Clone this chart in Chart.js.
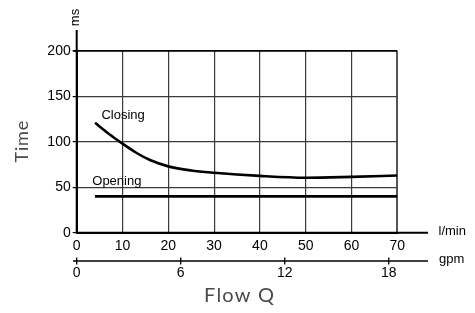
<!DOCTYPE html>
<html>
<head>
<meta charset="utf-8">
<script src="https://cdn.jsdelivr.net/npm/chart.js@4/dist/chart.umd.min.js"></script>
<style>
  html, body { margin: 0; padding: 0; background: #fff; }
  #wrap { width: 475px; height: 313px; }
</style>
</head>
<body>
<div id="wrap"><canvas id="c" width="475" height="313"></canvas></div>
<script>
// ---- data ----
const flowTicksLmin = [0, 10, 20, 30, 40, 50, 60, 70];
const timeTicks = [0, 50, 100, 150, 200];
const gpmTicks = [0, 6, 12, 18];
const closingFlow = [4, 7, 10, 13, 16, 20, 25, 30, 40, 50, 60, 70];
const closingTime = [121, 109, 98, 88, 80, 73, 68.5, 66, 62.5, 60.5, 61.5, 63];
const openingFlow = [4, 70];
const openingTime = [40, 40];
const LMIN_PER_GPM = 3.785411784;

const closingPts = closingFlow.map((x, i) => ({x, y: closingTime[i]}));
const openingPts = openingFlow.map((x, i) => ({x, y: openingTime[i]}));

const FONT = 'Liberation Sans, Arial, sans-serif';

function spacedText(ctx, text, cx, cy, spacing) {
  // draw centered text with letter spacing
  const chars = Array.from(text);
  const widths = chars.map(ch => ctx.measureText(ch).width);
  const total = widths.reduce((a, b) => a + b, 0) + spacing * (chars.length - 1);
  let x = cx - total / 2;
  const prevAlign = ctx.textAlign;
  ctx.textAlign = 'left';
  chars.forEach((ch, i) => { ctx.fillText(ch, x, cy); x += widths[i] + spacing; });
  ctx.textAlign = prevAlign;
}

const extras = {
  id: 'extras',
  beforeDraw(chart) {
    const ctx = chart.ctx;
    ctx.save();
    ctx.fillStyle = '#fff';
    ctx.fillRect(0, 0, chart.width, chart.height);
    ctx.restore();
  },
  afterDraw(chart) {
    const ctx = chart.ctx;
    const xs = chart.scales.x, ys = chart.scales.y;
    const x0 = xs.getPixelForValue(0), y0 = ys.getPixelForValue(0);
    ctx.save();
    ctx.strokeStyle = '#000';
    ctx.lineWidth = 2;
    // extended axis lines
    ctx.beginPath();
    ctx.moveTo(x0, y0);
    ctx.lineTo(xs.getPixelForValue(76.7), y0);
    ctx.moveTo(x0, y0);
    ctx.lineTo(x0, ys.getPixelForValue(223));
    ctx.stroke();

    // gpm axis
    const gy = 261;
    ctx.lineWidth = 1.6;
    ctx.beginPath();
    ctx.moveTo(xs.getPixelForValue(-0.8), gy);
    ctx.lineTo(xs.getPixelForValue(76.7), gy);
    ctx.stroke();
    ctx.lineWidth = 1.3;
    ctx.fillStyle = '#000';
    ctx.font = '14px ' + FONT;
    ctx.textAlign = 'center';
    ctx.textBaseline = 'middle';
    gpmTicks.forEach(g => {
      const px = xs.getPixelForValue(g * LMIN_PER_GPM);
      ctx.beginPath();
      ctx.moveTo(px, gy - 3.5);
      ctx.lineTo(px, gy + 3.5);
      ctx.stroke();
      ctx.fillText(String(g), px, 273.5);
    });

    // unit labels
    ctx.font = '13px ' + FONT;
    ctx.textAlign = 'left';
    ctx.fillText('l/min', 438.5, 231.5);
    ctx.fillText('gpm', 439, 259.5);

    // series labels
    ctx.fillText('Closing', xs.getPixelForValue(5.4), ys.getPixelForValue(129));
    ctx.fillText('Opening', xs.getPixelForValue(3.4), ys.getPixelForValue(56));

    // ms (rotated)
    ctx.save();
    ctx.translate(75, 17.5);
    ctx.rotate(-Math.PI / 2);
    ctx.textAlign = 'center';
    ctx.fillText('ms', 0, 0);
    ctx.restore();

    // axis titles
    ctx.fillStyle = '#4a4a4a';
    ctx.font = '20px Lato, sans-serif';
    ctx.textBaseline = 'alphabetic';
    ctx.textAlign = 'center';
    spacedText(ctx, 'Flow Q', 239, 301.5, 1.2);
    ctx.font = '18px Lato, sans-serif';
    ctx.save();
    ctx.translate(28, 141.7);
    ctx.rotate(-Math.PI / 2);
    spacedText(ctx, 'Time', 0, 0, 0.8);
    ctx.restore();
    ctx.restore();
  }
};

new Chart(document.getElementById('c'), {
  type: 'line',
  data: {
    datasets: [
      { label: 'Closing', data: closingPts, borderColor: '#000', borderWidth: 2.6,
        pointRadius: 0, fill: false, cubicInterpolationMode: 'monotone' },
      { label: 'Opening', data: openingPts, borderColor: '#000', borderWidth: 2.6,
        pointRadius: 0, fill: false, tension: 0 }
    ]
  },
  options: {
    responsive: false,
    animation: false,
    events: [],
    layout: { padding: { top: 51, right: 77.7, left: 0, bottom: 0 } },
    plugins: { legend: { display: false }, tooltip: { enabled: false } },
    scales: {
      x: {
        type: 'linear', min: 0, max: 70,
        afterFit(s) { s.height = 80.3; },
        afterBuildTicks(s) { s.ticks = flowTicksLmin.map(v => ({value: v})); },
        border: { display: true, color: '#000', width: 2 },
        grid: {
          drawTicks: false,
          color: c => c.tick && c.tick.value === 70 ? '#555' : '#3a3a3a',
          lineWidth: c => c.tick && c.tick.value === 70 ? 2 : 1.2
        },
        ticks: { color: '#000', font: { family: FONT, size: 14 }, padding: 5, maxRotation: 0 }
      },
      y: {
        type: 'linear', min: 0, max: 200,
        afterFit(s) { s.width = 76.7; },
        afterBuildTicks(s) { s.ticks = timeTicks.map(v => ({value: v})); },
        border: { display: true, color: '#000', width: 2 },
        grid: {
          drawTicks: true, tickLength: 4, tickColor: '#000',
          color: c => c.tick && c.tick.value === 200 ? '#000' : '#3a3a3a',
          lineWidth: c => c.tick && c.tick.value === 200 ? 1.8 : 1.2
        },
        ticks: { color: '#000', font: { family: FONT, size: 14 }, padding: 2 }
      }
    }
  },
  plugins: [extras]
});
</script>
</body>
</html>
